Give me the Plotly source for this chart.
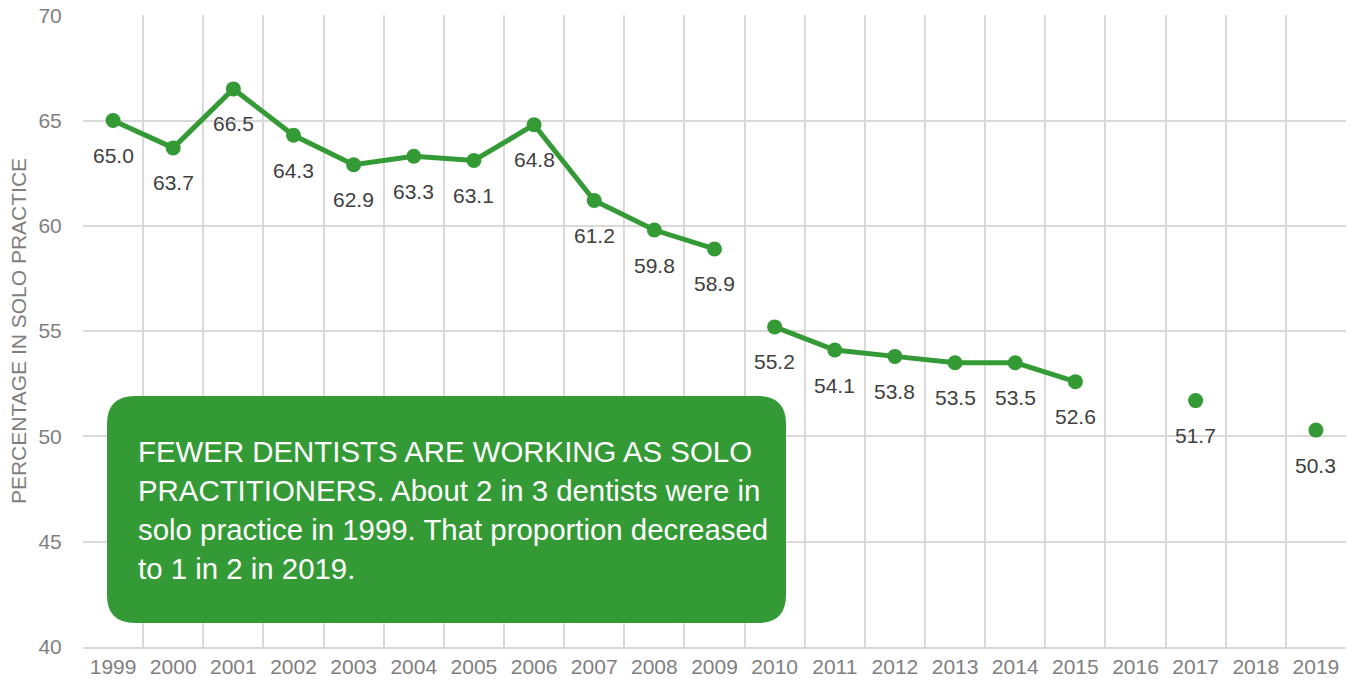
import plotly.graph_objects as go

years = [str(y) for y in range(1999, 2020)]
seg1_years = [str(y) for y in range(1999, 2010)]
seg1_values = [65.0, 63.7, 66.5, 64.3, 62.9, 63.3, 63.1, 64.8, 61.2, 59.8, 58.9]
seg2_years = [str(y) for y in range(2010, 2020)]
seg2_values = [55.2, 54.1, 53.8, 53.5, 53.5, 52.6, None, 51.7, None, 50.3]

y_ticks = [40, 45, 50, 55, 60, 65, 70]

GREEN = "#349a36"
GRID = "#d9d9d9"
TICK_GREY = "#7f7f7f"
LABEL_GREY = "#404040"
FONT = "Liberation Sans, Arial, sans-serif"

FIG_W, FIG_H = 1353, 685

fig = go.Figure()
for xs, ys in [(seg1_years, seg1_values), (seg2_years, seg2_values)]:
    fig.add_trace(go.Scatter(
        x=xs, y=ys, mode="lines+markers",
        line=dict(color=GREEN, width=5),
        marker=dict(color=GREEN, size=15),
        connectgaps=False, showlegend=False, hoverinfo="x+y",
    ))
    for x, y in zip(xs, ys):
        if y is None:
            continue
        fig.add_annotation(
            x=years.index(x), y=y, xref="x", yref="y", text=f"{y:.1f}",
            showarrow=False, yshift=-35, xanchor="center", yanchor="middle",
            font=dict(family=FONT, size=21, color=LABEL_GREY),
        )

# plot area in screen pixels
L, R, T, B = 83, 1346, 15, 647
W, H = R - L, B - T

def px(xp):
    return (xp - L) / W

def py(yp):
    return (B - yp) / H

# rounded rectangle in screen pixel coords
bx0, bx1, by0, by1, r = 107, 786, 396, 623, 28
path = (
    f"M {px(bx0 + r)},{py(by0)} "
    f"L {px(bx1 - r)},{py(by0)} "
    f"Q {px(bx1)},{py(by0)} {px(bx1)},{py(by0 + r)} "
    f"L {px(bx1)},{py(by1 - r)} "
    f"Q {px(bx1)},{py(by1)} {px(bx1 - r)},{py(by1)} "
    f"L {px(bx0 + r)},{py(by1)} "
    f"Q {px(bx0)},{py(by1)} {px(bx0)},{py(by1 - r)} "
    f"L {px(bx0)},{py(by0 + r)} "
    f"Q {px(bx0)},{py(by0)} {px(bx0 + r)},{py(by0)} Z"
)
fig.add_shape(type="path", path=path, xref="paper", yref="paper",
              fillcolor=GREEN, line=dict(width=0), layer="above")

box_lines = [
    "FEWER DENTISTS ARE WORKING AS SOLO",
    "PRACTITIONERS. About 2 in 3 dentists were in",
    "solo practice in 1999. That proportion decreased",
    "to 1 in 2 in 2019.",
]
line_y = [451, 490, 529, 568]
for txt, yy in zip(box_lines, line_y):
    fig.add_annotation(
        x=px(136), y=py(yy), xref="paper", yref="paper", text=txt,
        showarrow=False, xanchor="left", yanchor="middle",
        font=dict(family=FONT, size=29.4, color="white"),
    )

fig.update_layout(
    width=FIG_W, height=FIG_H,
    margin=dict(l=L, r=FIG_W - R, t=T, b=FIG_H - B, autoexpand=False),
    plot_bgcolor="white", paper_bgcolor="white",
    font=dict(family=FONT),
    xaxis=dict(
        type="category", categoryorder="array", categoryarray=years,
        tickvals=years, ticktext=years, automargin=False,
        tickson="boundaries", showgrid=True, gridcolor=GRID, gridwidth=2,
        showline=True, linecolor=GRID, linewidth=2,
        ticks="outside", ticklen=6, tickcolor="rgba(0,0,0,0)",
        tickfont=dict(family=FONT, size=21, color=TICK_GREY),
        range=[-0.5, 20.5], fixedrange=True,
    ),
    yaxis=dict(
        range=[40, 70.01], tickvals=y_ticks, ticktext=[str(v) for v in y_ticks],
        showgrid=True, gridcolor=GRID, gridwidth=2, automargin=False,
        showline=False, zeroline=False,
        ticks="outside", ticklen=16, tickcolor="rgba(0,0,0,0)",
        tickfont=dict(family=FONT, size=21, color=TICK_GREY),
        title=dict(text="PERCENTAGE IN SOLO PRACTICE", standoff=6,
                   font=dict(family=FONT, size=21, color=TICK_GREY)),
        fixedrange=True,
    ),
)

fig.write_html(
    "out.html",
    config={"displayModeBar": False},
    post_script="document.body.style.margin='0px';document.body.style.overflow='hidden';",
)
